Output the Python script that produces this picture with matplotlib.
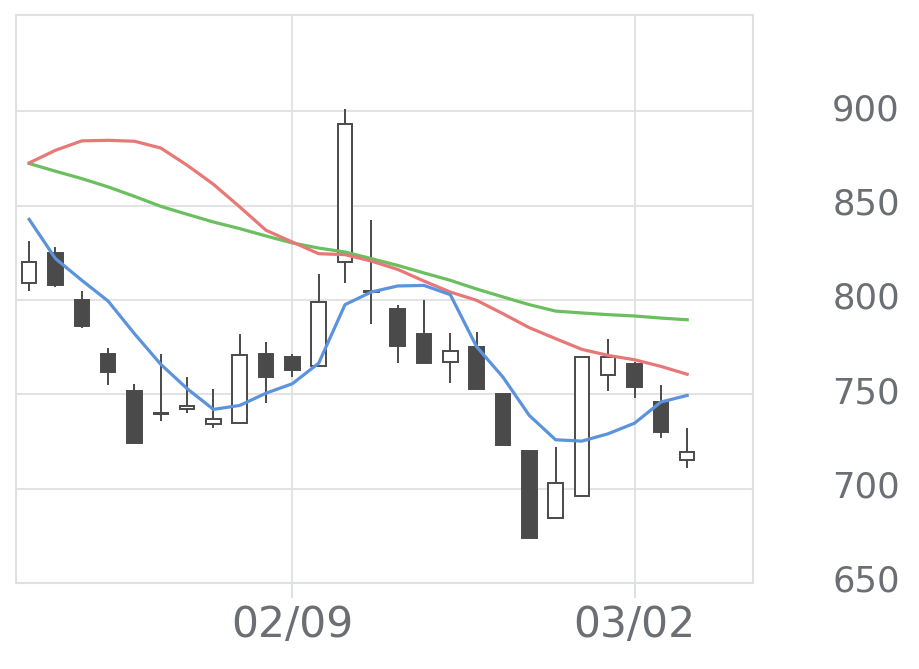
import matplotlib
matplotlib.use("Agg")
import matplotlib.pyplot as plt
import matplotlib.transforms as mtransforms
import numpy as np

dates = ["01/26", "01/27", "01/28", "01/29", "01/30", "02/02", "02/03", "02/04", "02/05", "02/06",
         "02/09", "02/10", "02/12", "02/13", "02/16", "02/17", "02/18", "02/19", "02/20", "02/24",
         "02/25", "02/26", "02/27", "03/02", "03/03", "03/04"]
opens = [809, 825, 800, 771.5, 752, 739.5, 742, 734, 735, 771.5,
         769.7, 765, 820, 805, 795, 782, 767, 775, 750, 720,
         684.5, 696, 760, 766, 746, 715]
closes = [820, 808, 786, 762, 724, 740, 744, 737, 771, 759,
          763, 799, 893, 804, 775.4, 766.5, 773, 752.6, 723, 674,
          703, 769.7, 770, 754, 730, 719.5]
highs = [831, 828, 805, 774.5, 755.5, 771.5, 759, 753, 782, 777.5,
         771.5, 814, 901, 842.5, 797.5, 800, 782.5, 783, 750, 720,
         722, 770, 779.5, 767, 755, 732]
lows = [805, 807, 785, 755, 724, 735.6, 740, 732, 735, 745.5,
        759, 765, 809, 787, 766.5, 766.5, 756, 752.6, 723, 674,
        684, 696, 751.5, 748, 727, 711]
ma_short = [842.7, 821.9, 810.4, 799.4, 782.1, 765.9, 753, 742, 744.1, 750.6,
            755.6, 766.5, 797.5, 804.2, 807.4, 807.7, 802.8, 775.2, 759.1, 738.8,
            725.9, 725.2, 729.1, 734.7, 745.9, 749.4]
ma_mid = [872.6, 879.3, 884.3, 884.6, 884.1, 880.5, 871.4, 861.3, 849.3, 836.9,
          830.7, 824.5, 824, 820.6, 816.2, 810, 804.2, 799.8, 792.7, 785.3,
          779.5, 773.8, 770.6, 768.3, 764.8, 760.6]
ma_long = [872.3, 868.2, 864.3, 859.9, 854.9, 849.6, 845.4, 841.3, 837.8, 833.9,
           830.2, 827.5, 825.4, 821.9, 818.3, 814.3, 810.4, 805.8, 801.6, 797.5,
           794.1, 793.1, 792.2, 791.5, 790.4, 789.5]
tick_dates = ["02/09", "03/02"]
y_ticks = [650, 700, 750, 800, 850, 900]

dark = "#4a4a4a"
grid_c = "#e0e0e0"
text_c = "#6b6e72"

fig = plt.figure(figsize=(9.2, 6.69), dpi=100)
ax = fig.add_axes([16/920, 1-583/669, (753-16)/920, (583-15)/669])

x = np.arange(len(dates))
o = np.array(opens); c = np.array(closes)
h = np.array(highs); l = np.array(lows)
up = c >= o

ax.vlines(x, l, h, color=dark, linewidth=1.4, zorder=2)
bottoms = np.minimum(o, c)
heights = np.maximum(np.abs(c - o), 0.3)
ax.bar(x[up], heights[up], bottom=bottoms[up], width=0.55, color="white",
       edgecolor=dark, linewidth=1.4, zorder=3)
ax.bar(x[~up], heights[~up], bottom=bottoms[~up], width=0.55, color=dark,
       edgecolor=dark, linewidth=1.4, zorder=3)

ax.plot(x, ma_long, color="#6abf5e", linewidth=2.3, zorder=4)
ax.plot(x, ma_mid, color="#e87878", linewidth=2.3, zorder=4)
ax.plot(x, ma_short, color="#5b93dc", linewidth=2.3, zorder=4)

ax.set_xlim(-0.5, 27.5)
ax.set_ylim(650, 951)

ax.yaxis.tick_right()
ax.set_yticks(y_ticks)
ax.set_yticklabels([str(v) for v in y_ticks])
ax.tick_params(axis="y", length=0, pad=57, labelsize=25.5, labelcolor=text_c)
shift = mtransforms.ScaledTranslation(0, 4.5/100, fig.dpi_scale_trans)
for lab in ax.get_yticklabels():
    lab.set_transform(lab.get_transform() + shift)

xt = [dates.index(d) for d in tick_dates]
ax.set_xticks(xt)
ax.set_xticklabels(tick_dates)
ax.tick_params(axis="x", length=11, width=1.2, color="#d3dbe8", pad=4,
               labelsize=30.5, labelcolor=text_c)

ax.grid(True, color=grid_c, linewidth=1.3, zorder=0)
ax.set_axisbelow(True)
for s in ax.spines.values():
    s.set_color(grid_c)
    s.set_linewidth(1.5)

fig.savefig("out.png", dpi=100, facecolor="white")
